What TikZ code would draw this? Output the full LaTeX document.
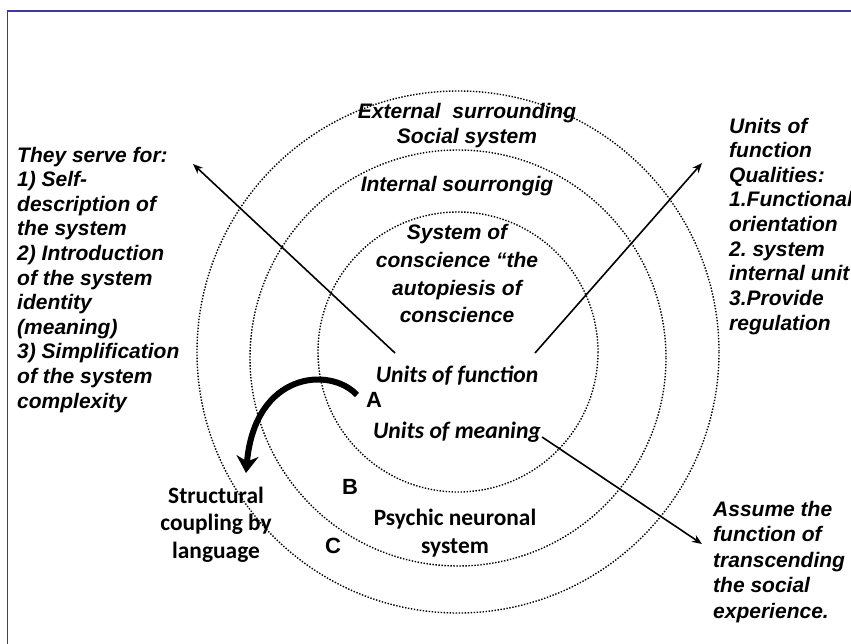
\documentclass[tikz,border=0pt]{standalone}
\usepackage{fontspec}
\setmainfont{Liberation Sans}
\newfontfamily\calibrifont{Carlito}
\usetikzlibrary{arrows.meta}

\definecolor{frameblue}{RGB}{60,60,150}

\tikzset{
  ring/.style={line width=1.4pt, dash pattern=on 1.4pt off 1.6pt},
  note/.style={font=\bfseries\itshape\fontsize{21}{24.6}\selectfont, align=left, anchor=base west, inner sep=0pt},
  title/.style={font=\bfseries\itshape\fontsize{21}{25}\selectfont, align=center, anchor=base, inner sep=0pt},
  unit/.style={font=\calibrifont\bfseries\itshape\fontsize{23.6}{28}\selectfont, anchor=base, inner sep=0pt},
  plain/.style={font=\calibrifont\bfseries\fontsize{23.4}{28}\selectfont, align=center, anchor=base, inner sep=0pt},
  zone/.style={font=\bfseries\fontsize{22}{26}\selectfont, anchor=base, inner sep=0pt},
  link/.style={line width=1.6pt, -{Stealth[length=10pt,width=8pt]}},
}

\begin{document}
\frenchspacing
\begin{tikzpicture}[x=1pt,y=-1pt]
\useasboundingbox (0,0) rectangle (851,644);
\draw[frameblue, line width=1.3pt] (7.3,644) |- (851,11);

% the three rings
\draw[ring] (458,352) circle (140);
\draw[ring] (458,358) circle (208);
\draw[ring] (458,352) circle (261);

% texts inside the rings (placed at the baseline of their last line)
\node[title] (external) at (467,144) {External\ \ surrounding\\Social system};
\node[title] (internal) at (457,192) {Internal sourrongig};
\node[title, font=\bfseries\itshape\fontsize{21}{27.7}\selectfont] (conscience) at (457,323)
  {System of\\conscience “the\\autopiesis of\\conscience};
\node[unit] (function) at (457,382) {Units of function};
\node[unit] (meaning) at (457,438) {Units of meaning};
\node[plain] (psychic) at (455,553) {Psychic neuronal\\system};
\node[zone] (zoneA) at (374,407) {A};
\node[zone] (zoneB) at (350,494) {B};
\node[zone] (zoneC) at (333,553) {C};

% texts outside
\node[note] (serve) at (17,408) {They serve for:\\1) Self-\\description of\\the system\\2) Introduction\\of the system\\identity\\(meaning)\\3) Simplification\\of the system\\complexity};
\node[note] (qualities) at (729,330) {Units of\\function\\Qualities:\\1.Functional\\orientation\\2. system\\internal unit\\3.Provide\\regulation};
\node[note, font=\bfseries\itshape\fontsize{21}{25.5}\selectfont] (assume) at (713,618) {Assume the\\function of\\transcending\\the social\\experience.};
\node[plain, font=\calibrifont\bfseries\fontsize{23.4}{27.5}\selectfont] (coupling) at (216,558) {Structural\\coupling by\\language};

% arrows
\coordinate (fromL) at (395,353);
\coordinate (toL) at (193,164);
\coordinate (fromR) at (535,353);
\coordinate (toR) at (702,163);
\coordinate (fromM) at (542,437);
\coordinate (toM) at (702,544);
\draw[link] (fromL) -- (toL);
\draw[link] (fromR) -- (toR);
\draw[link] (fromM) -- (toM);

\coordinate (fromA) at (357,395);
\coordinate (toCoupling) at (246,473);
\draw[line width=6pt, -{Stealth[length=17pt,width=22pt]}] (fromA) .. controls (330,366) and (255,372) .. (toCoupling);
\end{tikzpicture}
\end{document}
